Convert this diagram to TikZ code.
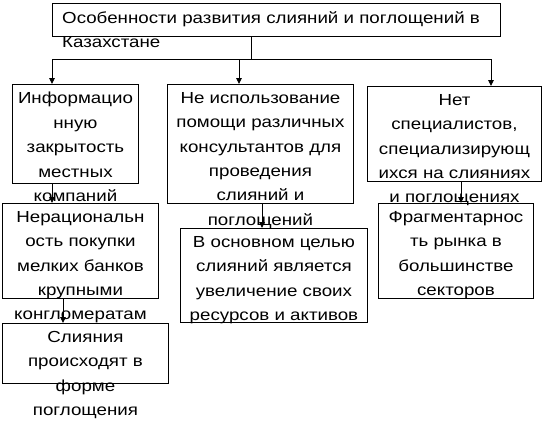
\documentclass[tikz,border=0pt]{standalone}
\usepackage{fontspec}
\setmainfont{Liberation Sans}[FakeStretch=1.17]
\usetikzlibrary{positioning, arrows.meta}

\begin{document}
\begin{tikzpicture}[x=1pt, y=-1pt,
    box/.style={draw, line width=0.9pt, inner sep=0pt, anchor=north west},
    txt/.style={align=center, anchor=north, inner sep=0pt, font=\fontsize{16}{24.4}\selectfont},
    link/.style={line width=0.9pt},
    arr/.style={line width=0.9pt, -{Triangle[length=6pt, width=5.5pt]}}]

\useasboundingbox (0,0) rectangle (546,424);

% Верхний блок
\node[box, minimum width=448pt, minimum height=33pt] (head) at (52,3) {};
\node[txt, anchor=north west, align=left] (headtxt) at (62,11)
  {Особенности развития слияний и поглощений в\\Казахстане};

% Первый ряд
\node[box, minimum width=126pt, minimum height=99pt] (info) at (12,84) {};
\node[txt] (infotxt) at ([yshift=-8pt]info.north)
  {Информацио\\нную\\закрытость\\местных\\компаний};

\node[box, minimum width=186pt, minimum height=119pt] (cons) at (167,84) {};
\node[txt] (constxt) at ([yshift=-8pt]cons.north)
  {Не использование\\помощи различных\\консультантов для\\проведения\\слияний и\\поглощений};

\node[box, minimum width=174pt, minimum height=95pt] (spec) at (367,86) {};
\node[txt] (spectxt) at ([yshift=-8pt]spec.north)
  {Нет\\специалистов,\\специализирующ\\ихся на слияниях\\и поглощениях};

% Второй ряд
\node[box, minimum width=156pt, minimum height=95pt] (irr) at (2,203) {};
\node[txt] (irrtxt) at ([yshift=-8pt]irr.north)
  {Нерациональн\\ость покупки\\мелких банков\\крупными\\конгломератам};

\node[box, minimum width=187pt, minimum height=94pt] (goal) at (180,228) {};
\node[txt] (goaltxt) at ([yshift=-8pt]goal.north)
  {В основном целью\\слияний является\\увеличение своих\\ресурсов и активов};

\node[box, minimum width=155pt, minimum height=95pt] (frag) at (378,203) {};
\node[txt] (fragtxt) at ([yshift=-8pt]frag.north)
  {Фрагментарнос\\ть рынка в\\большинстве\\секторов};

% Третий ряд
\node[box, minimum width=166pt, minimum height=60pt] (absorb) at (2,323) {};
\node[txt] (absorbtxt) at ([yshift=-8pt]absorb.north)
  {Слияния\\происходят в\\форме\\поглощения};

% Связи
\coordinate (split) at (251,59);
\coordinate (ja) at (52,59);
\coordinate (jb) at (239,59);
\coordinate (jc) at (491,59);
\draw[link] (head.south -| split) -- (split);
\draw[link] (ja) -- (jc);
\draw[arr] (ja) -- (ja |- info.north);
\draw[arr] (jb) -- (jb |- cons.north);
\draw[arr] (jc) -- (jc |- spec.north);

\coordinate (da) at (52,0);
\coordinate (db) at (63,0);
\coordinate (dc) at (262,0);
\coordinate (dd) at (461,0);
\draw[arr] (da |- info.south) -- (da |- irr.north);
\draw[arr] (db |- irr.south) -- (db |- absorb.north);
\draw[arr] (dc |- cons.south) -- (dc |- goal.north);
\draw[arr] (dd |- spec.south) -- (dd |- frag.north);

\end{tikzpicture}
\end{document}
